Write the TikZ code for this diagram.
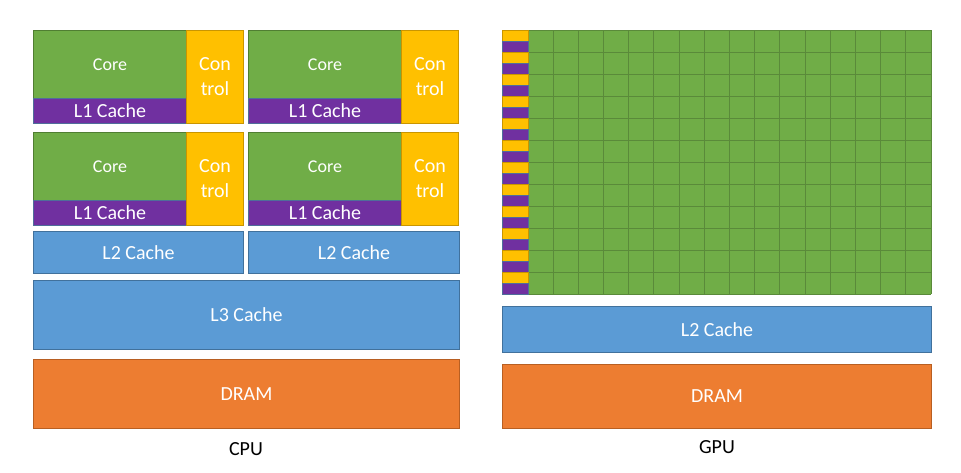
\documentclass[tikz,border=0pt]{standalone}
\usepackage{fontspec}
\setmainfont{Carlito}
\usetikzlibrary{positioning}
\definecolor{coregreen}{HTML}{70AD47}
\definecolor{coreedge}{HTML}{507E32}
\definecolor{gridedge}{HTML}{5A8A3A}
\definecolor{cachepurple}{HTML}{7030A0}
\definecolor{purpleedge}{HTML}{4F6E9A}
\definecolor{ctrlyellow}{HTML}{FFC000}
\definecolor{yellowedge}{HTML}{C99500}
\definecolor{cacheblue}{HTML}{5B9BD5}
\definecolor{blueedge}{HTML}{41719C}
\definecolor{dramorange}{HTML}{ED7D31}
\definecolor{orangeedge}{HTML}{B85F22}
\tikzstyle{unit} = [rectangle, line width=1pt, text=white, anchor=north west, inner sep=0pt, font=\fontsize{20}{25}\selectfont]
\tikzstyle{core} = [unit, fill=coregreen, draw=coreedge, minimum width=153pt, minimum height=68pt, font=\fontsize{18}{20}\selectfont]
\tikzstyle{lone} = [unit, fill=cachepurple, draw=purpleedge, minimum width=153pt, minimum height=25pt]
\tikzstyle{control} = [unit, fill=ctrlyellow, draw=yellowedge, minimum width=57pt, minimum height=93pt, align=center]
\tikzstyle{cache} = [unit, fill=cacheblue, draw=blueedge]
\tikzstyle{dram} = [unit, fill=dramorange, draw=orangeedge]
\tikzstyle{caption} = [font=\fontsize{20}{24}\selectfont, text=black]

\begin{document}
\begin{tikzpicture}[x=1pt, y=-1pt]

        \useasboundingbox (0,0) rectangle (961,472);

        %% cpu cores
        \foreach \i/\dx/\dy in {1/0/0, 2/215/0, 3/0/102, 4/215/102} {
            \node (core\i) [core] at ({33+\dx},{30+\dy}) {Core};
            \node (lone\i) [lone] at ({33+\dx},{98+\dy}) {L1 Cache};
            \node (ctrl\i) [control] at ({186+\dx},{30+\dy}) {Con\\trol};
        }

        %% cpu caches
        \node (ltwoA) [cache, minimum width=210pt, minimum height=42pt] at (33,231) {L2 Cache};
        \node (ltwoB) [cache, minimum width=211pt, minimum height=42pt] at (248,231) {L2 Cache};
        \node (lthree) [cache, minimum width=426pt, minimum height=69pt] at (33,280) {L3 Cache};
        \node (cpudram) [dram, minimum width=426pt, minimum height=69pt] at (33,359) {DRAM};
        \node (cpu) [caption] at (246,449) {CPU};

        %% gpu cores
        \fill[coregreen] (528,30) rectangle (931,294);
        \foreach \c in {0,...,16}
            \draw[gridedge, line width=1pt] ({528+25.1875*\c},30) -- ({528+25.1875*\c},294);
        \foreach \r in {0,...,12}
            \draw[gridedge, line width=1pt] (528,{30+22*\r}) -- (931,{30+22*\r});
        \foreach \r in {0,...,11} {
            \draw[fill=ctrlyellow, draw=yellowedge, line width=1pt] (502,{30+22*\r}) rectangle (528,{41+22*\r});
            \draw[fill=cachepurple, draw=purpleedge, line width=1pt] (502,{41+22*\r}) rectangle (528,{52+22*\r});
        }

        %% gpu memory
        \node (gpultwo) [cache, minimum width=429pt, minimum height=46pt] at (502,306) {L2 Cache};
        \node (gpudram) [dram, minimum width=429pt, minimum height=64pt] at (502,364) {DRAM};
        \node (gpu) [caption] at (717,447) {GPU};

    \end{tikzpicture}
\end{document}
